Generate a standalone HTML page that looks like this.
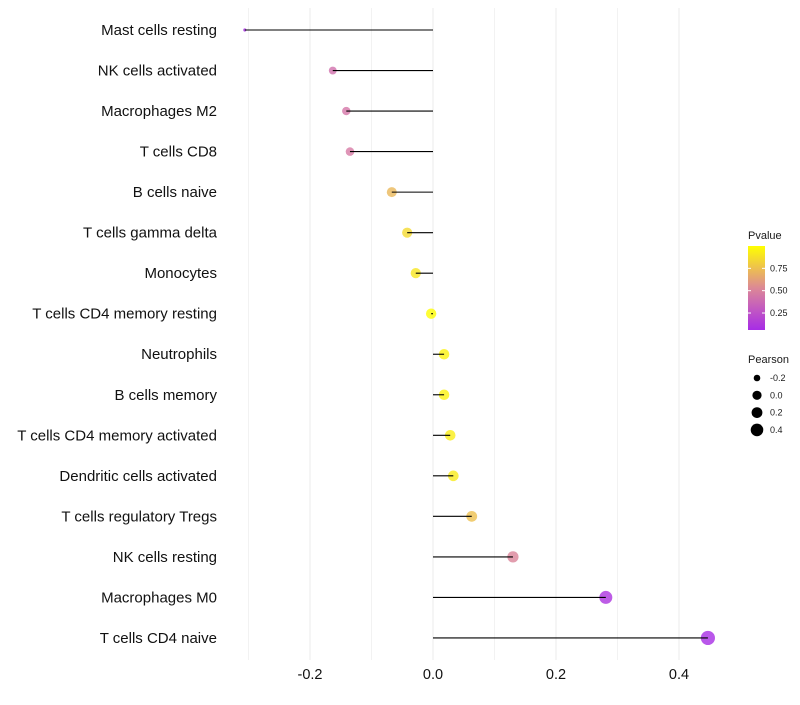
<!DOCTYPE html>
<html><head><meta charset="utf-8"><style>
body{margin:0;background:#fff;font-family:"Liberation Sans",sans-serif}
svg text{font-family:"Liberation Sans",sans-serif}
</style></head><body>
<svg id="chart" width="800" height="700"></svg>
<script>
const categories=["Mast cells resting","NK cells activated","Macrophages M2","T cells CD8","B cells naive","T cells gamma delta","Monocytes","T cells CD4 memory resting","Neutrophils","B cells memory","T cells CD4 memory activated","Dendritic cells activated","T cells regulatory  Tregs ","NK cells resting","Macrophages M0","T cells CD4 naive"];
const pearson=[-0.306,-0.163,-0.141,-0.135,-0.067,-0.042,-0.028,-0.003,0.018,0.018,0.028,0.033,0.063,0.130,0.281,0.447];
const pvalues=[0.07,0.42,0.45,0.47,0.72,0.85,0.9,0.99,0.95,0.95,0.93,0.92,0.75,0.52,0.1,0.07];
const xTicks=[-0.2,0,0.2,0.4];
const xTickLabels=["-0.2","0.0","0.2","0.4"];
const xMinor=[-0.3,-0.1,0.1,0.3];
const colorTicks=[0.25,0.5,0.75];
const sizeLegend=[-0.2,0,0.2,0.4];

const NS="http://www.w3.org/2000/svg";
const svg=document.getElementById('chart');
function mk(t,a,p){const e=document.createElementNS(NS,t);for(const k in a)e.setAttribute(k,a[k]);(p||svg).appendChild(e);return e;}
const x=v=>433+v*615;
const y=i=>30+i*40.53;
const sk=[[-0.31,1.5],[-0.25,2.6],[-0.16,4.0],[-0.07,5.0],[0.13,5.6],[0.28,6.5],[0.45,7.1]];
function rad(v){if(v<=sk[0][0])return sk[0][1];for(let i=0;i<sk.length-1;i++){const[a,ra]=sk[i],[b,rb]=sk[i+1];if(v<=b)return ra+(rb-ra)*(v-a)/(b-a);}return sk[sk.length-1][1];}
function col(p){
  const stops=[[0,[160,32,240]],[0.5,[218,128,160]],[1,[255,255,0]]];
  for(let i=0;i<stops.length-1;i++){const[a,ca]=stops[i],[b,cb]=stops[i+1];
    if(p<=b){const t=(p-a)/(b-a);return `rgb(${ca.map((c,j)=>Math.round(c+(cb[j]-c)*t)).join(',')})`;}}
  return 'rgb(255,255,0)';
}
const grid=mk('g',{});


xMinor.forEach(v=>mk('line',{x1:x(v),x2:x(v),y1:8,y2:660,stroke:'#f2f2f2','stroke-width':1},grid));
xTicks.forEach(v=>mk('line',{x1:x(v),x2:x(v),y1:8,y2:660,stroke:'#ebebeb','stroke-width':1},grid));
const xa=mk('g',{});


xTicks.forEach((v,i)=>{const t=mk('text',{x:x(v),y:679,'font-size':14.5,'text-anchor':'middle',fill:'#111'},xa);t.textContent=xTickLabels[i];});
const ya=mk('g',{});


categories.forEach((c,i)=>{const t=mk('text',{x:217,y:y(i)+5,'font-size':15,'text-anchor':'end',fill:'#111','xml:space':'preserve'},ya);t.textContent=c;});
const marks=mk('g',{});


categories.forEach((c,i)=>{
  const pt=mk('circle',{cx:x(pearson[i]),cy:y(i),r:rad(pearson[i]),fill:col(pvalues[i]),'fill-opacity':0.8},marks);
  
  
  const ln=mk('line',{x1:x(0),x2:x(pearson[i]),y1:y(i),y2:y(i),stroke:'#000','stroke-width':1.1},marks);
  
  
});
const lg=mk('g',{});


const defs=mk('defs',{});
const gr=mk('linearGradient',{id:'g',x1:0,y1:1,x2:0,y2:0},defs);
[0,0.25,0.5,0.75,1].forEach(s=>mk('stop',{offset:s,'stop-color':col(0.06+s*0.94)},gr));
let t=mk('text',{x:748,y:239,'font-size':11,fill:'#1a1a1a'},lg);t.textContent='Pvalue';
mk('rect',{x:748,y:246,width:17,height:84,fill:'url(#g)'},lg);
const cy=p=>330-(p-0.06)/0.94*84;
colorTicks.forEach(p=>{mk('line',{x1:748,x2:751,y1:cy(p),y2:cy(p),stroke:'#fff'},lg);mk('line',{x1:762,x2:765,y1:cy(p),y2:cy(p),stroke:'#fff'},lg);
  const tt=mk('text',{x:770,y:cy(p)+3,'font-size':9,fill:'#1a1a1a'},lg);tt.textContent=p.toFixed(2);});
const sg=mk('g',{});


t=mk('text',{x:748,y:363,'font-size':11,fill:'#1a1a1a'},sg);t.textContent='Pearson';
const legR=[3.3,4.6,5.4,6.3];
sizeLegend.forEach((v,i)=>{const yy=378+i*17.3;mk('circle',{cx:757,cy:yy,r:legR[i],fill:'#000'},sg);
  const tt=mk('text',{x:770,y:yy+3,'font-size':9,fill:'#1a1a1a'},sg);tt.textContent=v.toFixed(1);});
</script>
</body></html>
